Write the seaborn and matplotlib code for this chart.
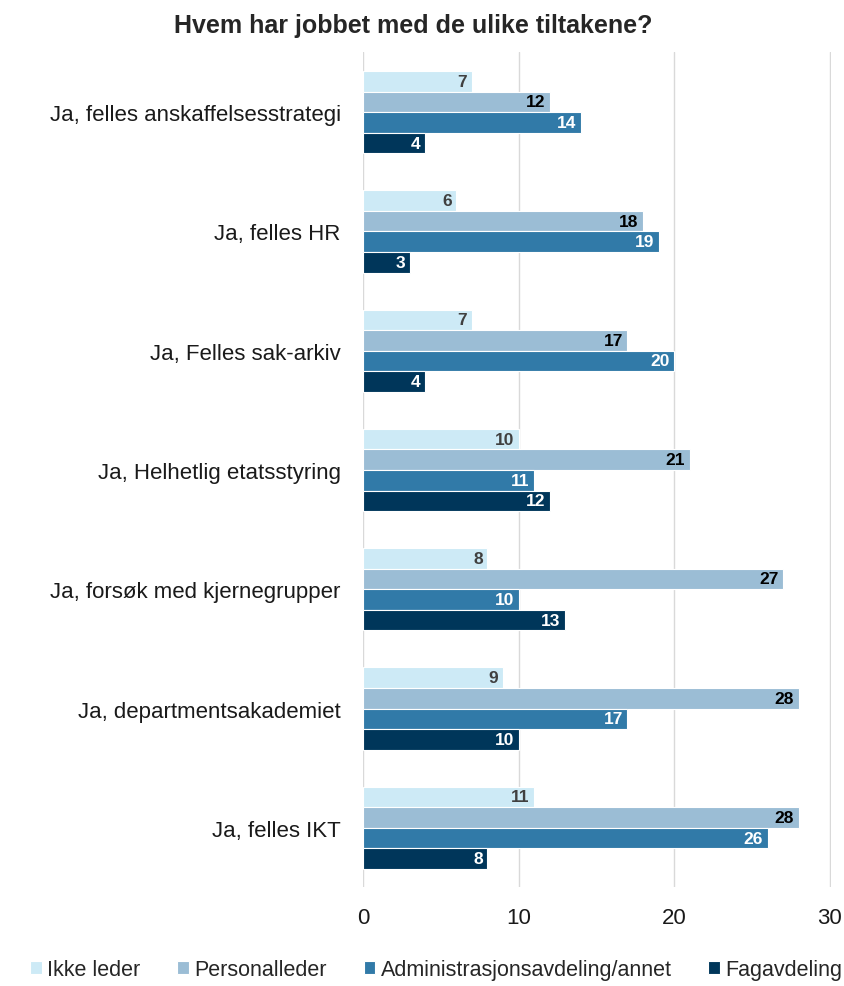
import pandas as pd
import matplotlib.pyplot as plt
import seaborn as sns

# data
categories = ["Ja, felles anskaffelsesstrategi", "Ja, felles HR", "Ja, Felles sak-arkiv",
              "Ja, Helhetlig etatsstyring", "Ja, forsøk med kjernegrupper",
              "Ja, departmentsakademiet", "Ja, felles IKT"]
groups = ["Ikke leder", "Personalleder", "Administrasjonsavdeling/annet", "Fagavdeling"]
ikke_leder = [7, 6, 7, 10, 8, 9, 11]
personalleder = [12, 18, 17, 21, 27, 28, 28]
administrasjon = [14, 19, 20, 11, 10, 17, 26]
fagavdeling = [4, 3, 4, 12, 13, 10, 8]

colors = ["#cdeaf6", "#9bbdd5", "#317aa8", "#00365a"]
label_colors = ["#404040", "#000000", "#ffffff", "#ffffff"]

rows = []
for g, vals in zip(groups, [ikke_leder, personalleder, administrasjon, fagavdeling]):
    for c, v in zip(categories, vals):
        rows.append({"Tiltak": c, "Gruppe": g, "Antall": v})
df = pd.DataFrame(rows)

sns.set_style("white")
plt.rcParams['font.family'] = ['Liberation Sans', 'DejaVu Sans']

fig = plt.figure(figsize=(8.44, 9.87), dpi=100)
ax = fig.add_axes([0.430, 0.0998, 0.555, 0.846])

sns.barplot(data=df, y="Tiltak", x="Antall", hue="Gruppe", order=categories,
            hue_order=groups, palette=colors, width=0.69, orient="h",
            edgecolor="white", linewidth=0.8, saturation=1, ax=ax, legend=True)

# value labels inside bar ends
for cont, lc in zip(ax.containers, label_colors):
    for p in cont.patches:
        w = p.get_width()
        ax.text(w - 0.3, p.get_y() + p.get_height() / 2, f"{int(w)}",
                ha="right", va="center", fontsize=12.5, fontweight="bold", color=lc)

ax.set_xlim(0, 30.1)
ax.set_ylim(6.5, -0.5)
ax.set_xticks([0, 10, 20, 30])
ax.xaxis.grid(True, color="#d9d9d9", linewidth=1)
ax.set_axisbelow(True)
for s in ax.spines.values():
    s.set_visible(False)
ax.set_xlabel("")
ax.set_ylabel("")
ax.tick_params(axis="both", length=0, labelsize=16, colors="#1a1a1a")
ax.tick_params(axis="y", pad=16)
ax.tick_params(axis="x", pad=14)

handles, labels = ax.get_legend_handles_labels()
ax.get_legend().remove()
fig.legend(handles, labels, loc="lower center", bbox_to_anchor=(0.517, -0.014), ncol=4,
           frameon=False, fontsize=15.5, handlelength=0.55, handleheight=0.55,
           handletextpad=0.25, columnspacing=1.7)

fig.suptitle("Hvem har jobbet med de ulike tiltakene?", x=0.49, y=0.986,
             fontsize=18, fontweight="bold")

fig.savefig("out.png", dpi=100)
